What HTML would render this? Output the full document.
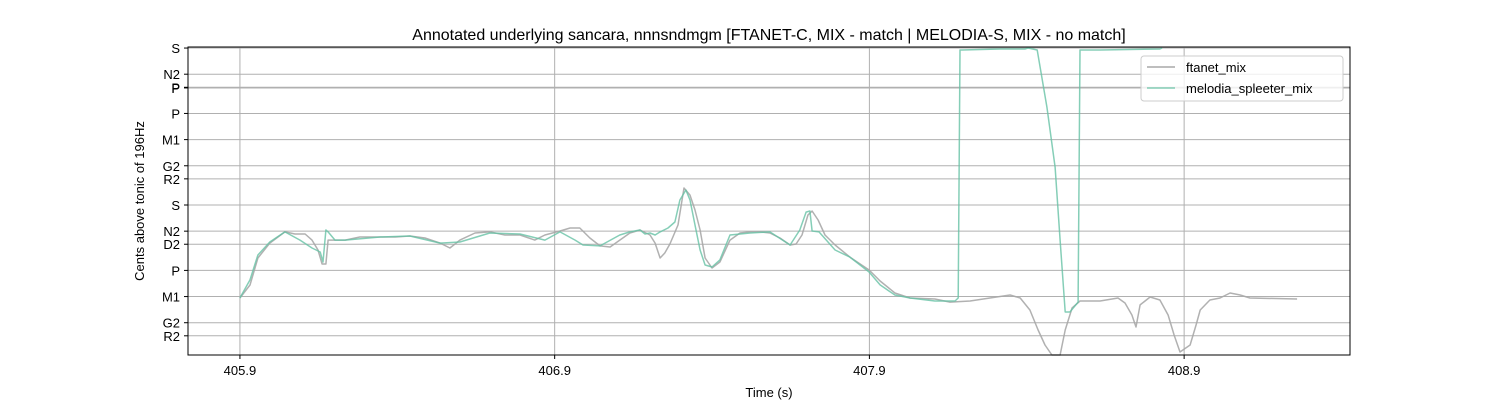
<!DOCTYPE html>
<html><head><meta charset="utf-8"><style>
body{margin:0;background:#fff;width:1500px;height:400px;overflow:hidden}
svg{font-family:"Liberation Sans","DejaVu Sans",sans-serif}
</style></head><body>
<svg id="chart" width="1500" height="400">
<rect width="1500" height="400" fill="#fff"/>
<text x="769" y="40" font-size="16" text-anchor="middle">Annotated underlying sancara, nnnsndmgm [FTANET-C, MIX - match | MELODIA-S, MIX - no match]</text>
<g id="grid"></g>
<g id="series"></g>
<g id="axes"></g>
<text x="769" y="397" font-size="13" text-anchor="middle">Time (s)</text>
<text transform="translate(144,201) rotate(-90)" font-size="13" text-anchor="middle">Cents above tonic of 196Hz</text>
<g>
<rect x="1141" y="56" width="202" height="45" rx="3" fill="#fff" fill-opacity="0.8" stroke="#ccc"/>
<line x1="1147" y1="67" x2="1175" y2="67" stroke="#a9a9a9" stroke-width="1.5"/>
<text x="1186" y="72" font-size="13">ftanet_mix</text>
<line x1="1147" y1="88" x2="1175" y2="88" stroke="#66c2a5" stroke-opacity="0.8" stroke-width="1.5"/>
<text x="1186" y="93" font-size="13">melodia_spleeter_mix</text>
</g>
</svg>
<script>
const xTicks=[405.9,406.9,407.9,408.9];
const xTickLabels=["405.9","406.9","407.9","408.9"];
const yTicks=[2400,2200,2100,2095,1900,1700,1500,1400,1200,1000,900,700,500,300,200];
const yTickLabels=["S","N2","P","P","P","M1","G2","R2","S","N2","D2","P","M1","G2","R2"];
const ftTimes=[405.900,405.932,405.957,405.995,406.043,406.075,406.107,406.129,406.148,406.161,406.173,406.180,406.234,406.281,406.345,406.393,406.440,406.488,406.536,406.567,406.599,406.647,406.694,406.742,406.790,406.837,406.869,406.917,406.949,406.980,407.012,407.044,407.076,407.107,407.139,407.171,407.203,407.219,407.235,407.250,407.266,407.292,407.311,407.330,407.346,407.362,407.378,407.400,407.425,407.457,407.489,407.521,407.552,407.584,407.616,407.648,407.667,407.686,407.705,407.718,407.737,407.759,407.791,407.838,407.899,407.934,407.981,408.029,408.108,408.156,408.220,408.283,408.347,408.379,408.410,408.436,408.458,408.480,408.506,408.522,408.544,408.569,408.633,408.690,408.712,408.734,408.747,408.760,408.792,408.823,408.849,408.868,408.887,408.919,408.938,408.951,408.982,409.014,409.046,409.078,409.109,409.259];
const ftCents=[489,588,795,909,994,978,978,932,856,749,749,932,932,955,955,955,963,948,909,871,932,986,994,971,971,932,971,1001,1024,1024,948,887,879,932,986,1009,971,909,795,833,902,1047,1330,1276,1162,1009,795,718,764,932,986,994,994,986,948,894,902,971,1124,1154,1085,971,894,802,703,619,527,489,481,458,466,489,512,489,397,244,130,53,53,244,413,466,466,489,451,359,267,436,497,474,359,206,76,130,283,397,474,489,527,512,489,481];
const meTimes=[405.900,405.932,405.957,405.995,406.043,406.091,406.129,406.155,406.164,406.173,406.180,406.202,406.234,406.345,406.440,406.536,406.599,406.694,406.790,406.869,406.917,406.965,406.990,407.044,407.107,407.139,407.171,407.187,407.203,407.219,407.235,407.260,407.282,407.298,407.317,407.330,407.346,407.362,407.378,407.400,407.425,407.457,407.521,407.584,407.648,407.679,407.699,407.711,407.718,407.740,407.791,407.838,407.899,407.934,407.981,408.029,408.108,408.172,408.182,408.188,408.194,408.315,408.394,408.404,408.433,408.464,408.490,408.506,408.522,408.537,408.563,408.569,408.633,408.823,408.830];
const meCents=[489,627,818,917,994,932,871,841,764,1009,994,932,932,955,963,909,917,986,978,932,994,932,894,887,971,994,1009,978,986,971,994,1024,1070,1238,1315,1238,1047,856,741,726,780,971,986,994,894,1009,1146,1154,1001,994,856,802,688,589,512,489,466,466,489,2385,2385,2393,2393,2400,2385,1949,1490,932,382,382,458,2385,2385,2393,2400];

const NS="http://www.w3.org/2000/svg";
const L=188,R=1350,T=47,B=355;
const X0=405.735,X1=409.427,Y0=53.2,Y1=2408;
const sx=t=>L+(t-X0)/(X1-X0)*(R-L);
const sy=c=>B-(c-Y0)/(Y1-Y0)*(B-T);
function mk(tag,attrs,parent){const e=document.createElementNS(NS,tag);for(const k in attrs)e.setAttribute(k,attrs[k]);parent.appendChild(e);return e;}
const grid=document.getElementById('grid'),axes=document.getElementById('axes'),series=document.getElementById('series');
xTicks.forEach((t,i)=>{
  const x=sx(t);
  const g=mk('line',{x1:x,y1:T,x2:x,y2:B,stroke:'#b0b0b0','stroke-width':1},grid);
  
  
  mk('line',{x1:x,y1:B,x2:x,y2:B+4,stroke:'#000'},axes);
  const tx=mk('text',{x:x,y:B+20,'font-size':13,'text-anchor':'middle'},axes);
  tx.textContent=xTickLabels[i];
  
  
});
yTicks.forEach((c,i)=>{
  const y=sy(c);
  const g=mk('line',{x1:L,y1:y,x2:R,y2:y,stroke:'#b0b0b0','stroke-width':1},grid);
  
  
  mk('line',{x1:L-4,y1:y,x2:L,y2:y,stroke:'#000'},axes);
  const tx=mk('text',{x:L-8,y:y+5,'font-size':13,'text-anchor':'end'},axes);
  tx.textContent=yTickLabels[i];
  
  
});
const fr=mk('rect',{x:L,y:T,width:R-L,height:B-T,fill:'none',stroke:'#000','stroke-width':1},axes);


function line(ts,cs,color,op){
  return mk('polyline',{points:ts.map((t,i)=>sx(t).toFixed(1)+','+sy(cs[i]).toFixed(1)).join(' '),fill:'none',stroke:color,'stroke-opacity':op,'stroke-width':1.5,'stroke-linejoin':'round'},series);
}
const l1=line(ftTimes,ftCents,'#a9a9a9',0.9);


const l2=line(meTimes,meCents,'#66c2a5',0.8);


</script>
</body></html>
